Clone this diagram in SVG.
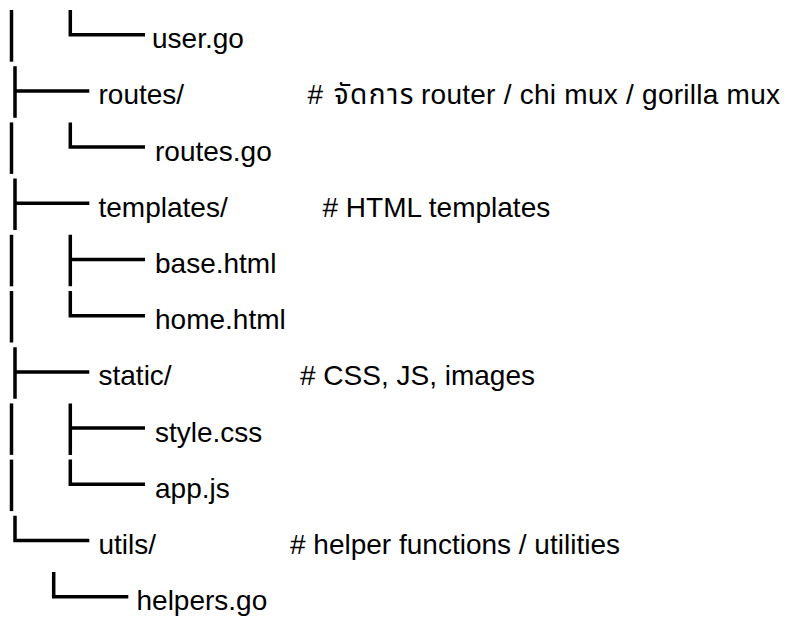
<svg xmlns="http://www.w3.org/2000/svg" width="788" height="619" viewBox="0 0 788 619">
<style>
.t{font-family:"Liberation Sans",Arial,"Noto Sans Thai",Tahoma,sans-serif;font-size:28px;fill:#000}
.c{fill:none;stroke:#000;stroke-width:3.5;stroke-linecap:butt;stroke-linejoin:miter}
</style>
<rect width="788" height="619" fill="#fff"/>
<g id="connectors" class="c">
<path d="M11.5 10V61.7"/>
<path d="M70.3 10V34.7H145"/>
<path d="M15 66.2V117.7M15 90.9H89.3"/>
<path d="M11.5 122.4V173.9"/>
<path d="M70.3 122.4V147.1H145"/>
<path d="M15 178.6V230.1M15 203.3H89.3"/>
<path d="M11.5 234.8V286.3"/>
<path d="M70.3 234.8V286.3M70.3 259.5H145"/>
<path d="M11.5 291V342.5"/>
<path d="M70.3 291V315.7H145"/>
<path d="M15 347.2V398.7M15 371.9H89.3"/>
<path d="M11.5 403.4V454.9"/>
<path d="M70.3 403.4V454.9M70.3 428.1H145"/>
<path d="M11.5 459.6V511.1"/>
<path d="M70.3 459.6V484.3H145"/>
<path d="M15 515.8V540.5H89.3"/>
<path d="M53.7 572V596.7H128.3"/>
</g>
<g id="user-go"><text class="t" x="152" y="48.2">user.go</text></g>
<g id="routes"><text class="t" x="98.5" y="104.4">routes/</text><text class="t" x="307.5" y="104.4"><tspan textLength="106"># จัดการ</tspan><tspan x="421" textLength="359">router / chi mux / gorilla mux</tspan></text></g>
<g id="routes-go"><text class="t" x="155" y="160.6">routes.go</text></g>
<g id="templates"><text class="t" x="98.5" y="216.8">templates/</text><text class="t" x="322.5" y="216.8"># HTML templates</text></g>
<g id="base-html"><text class="t" x="155" y="273">base.html</text></g>
<g id="home-html"><text class="t" x="155" y="329.2">home.html</text></g>
<g id="static"><text class="t" x="98.5" y="385.4">static/</text><text class="t" x="300" y="385.4"># CSS, JS, images</text></g>
<g id="style-css"><text class="t" x="155" y="441.6">style.css</text></g>
<g id="app-js"><text class="t" x="155" y="497.8">app.js</text></g>
<g id="utils"><text class="t" x="98.5" y="554">utils/</text><text class="t" x="290" y="554"># helper functions / utilities</text></g>
<g id="helpers-go"><text class="t" x="136.5" y="610.2">helpers.go</text></g>
</svg>
